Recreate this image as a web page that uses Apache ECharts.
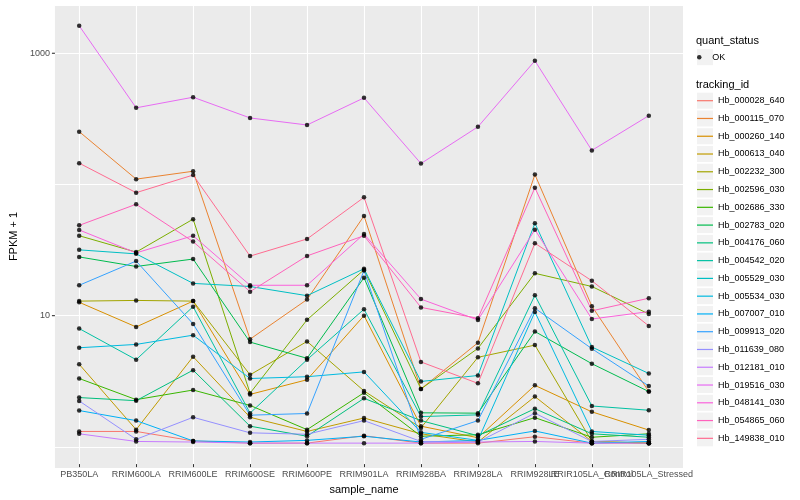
<!DOCTYPE html>
<html>
<head>
<meta charset="utf-8">
<script src="https://cdn.jsdelivr.net/npm/echarts@6/dist/echarts.min.js"></script>
<style>html,body{margin:0;padding:0;background:#fff}#c{width:800px;height:500px}</style>
</head>
<body>
<div id="c"></div>
<script>
const categories = ['PB350LA','RRIM600LA','RRIM600LE','RRIM600SE','RRIM600PE','RRIM901LA','RRIM928BA','RRIM928LA','RRIM928LE','RRIR105LA_Control','RRIR105LA_Stressed'];
const yTickLabels = [10, 1000];

const Hb_000028_640 = [1.23, 1.23, 1.04, 1.0, 1.0, 1.14, 1.0, 1.0, 1.12, 1.0, 1.0];
const Hb_000115_070 = [248, 107, 123, 6.3, 12.7, 55.8, 2.61, 5.91, 116, 11.3, 2.49];
const Hb_000260_140 = [12.1, 7.82, 12.35, 2.37, 3.07, 9.55, 1.35, 1.10, 2.78, 1.74, 1.26];
const Hb_000613_040 = [4.04, 1.27, 4.62, 1.58, 1.23, 1.56, 1.18, 1.02, 2.28, 1.03, 1.0];
const Hb_002232_300 = [12.35, 12.5, 12.35, 3.35, 6.05, 2.52, 1.31, 4.57, 5.67, 1.03, 1.0];
const Hb_002596_030 = [39.3, 29.4, 52.7, 2.42, 8.87, 21.5, 2.61, 5.35, 20.2, 16.0, 9.83];
const Hb_002686_330 = [3.14, 2.16, 2.56, 1.95, 1.27, 2.44, 1.13, 1.16, 1.57, 1.11, 1.18];
const Hb_002783_020 = [27.0, 22.8, 26.0, 5.98, 4.49, 18.7, 1.71, 1.70, 7.21, 4.08, 2.49];
const Hb_004176_060 = [2.24, 2.12, 3.64, 1.35, 1.13, 2.21, 1.49, 1.14, 1.84, 1.18, 1.11];
const Hb_004542_020 = [7.60, 4.38, 11.2, 1.70, 4.38, 10.7, 1.60, 1.65, 13.7, 1.93, 1.79];
const Hb_005529_030 = [30.6, 28.5, 16.9, 16.0, 13.6, 21.9, 2.98, 3.31, 49.1, 5.48, 3.43];
const Hb_005534_030 = [5.41, 5.74, 6.76, 3.14, 3.24, 3.53, 1.21, 1.05, 10.2, 1.23, 1.15];
const Hb_007007_010 = [1.78, 1.49, 1.04, 1.02, 1.05, 1.13, 1.02, 1.05, 1.24, 1.0, 1.03];
const Hb_009913_020 = [16.35, 25.1, 8.25, 1.64, 1.69, 21.2, 1.07, 1.49, 10.9, 5.32, 2.75];
const Hb_011639_080 = [2.11, 1.07, 1.58, 1.20, 1.17, 1.49, 1.03, 1.02, 1.70, 1.03, 1.07];
const Hb_012181_010 = [1.18, 1.03, 1.02, 1.0, 1.0, 1.0, 1.0, 1.02, 1.03, 1.0, 1.0];
const Hb_019516_030 = [1615, 378, 456, 316, 279, 451, 141, 270, 869, 178, 329];
const Hb_048141_030 = [43.5, 29.0, 39.3, 16.35, 16.35, 40.5, 12.8, 8.84, 43.7, 9.0, 10.25];
const Hb_054865_060 = [47.2, 68.6, 35.4, 14.6, 27.5, 39.3, 11.05, 9.11, 91.9, 10.4, 13.0];
const Hb_149838_010 = [142, 84.2, 115, 27.4, 37.1, 77.5, 4.21, 2.88, 34.4, 17.7, 7.96];

const trackingIds = ['Hb_000028_640','Hb_000115_070','Hb_000260_140','Hb_000613_040','Hb_002232_300','Hb_002596_030','Hb_002686_330','Hb_002783_020','Hb_004176_060','Hb_004542_020','Hb_005529_030','Hb_005534_030','Hb_007007_010','Hb_009913_020','Hb_011639_080','Hb_012181_010','Hb_019516_030','Hb_048141_030','Hb_054865_060','Hb_149838_010'];
const seriesValues = [Hb_000028_640,Hb_000115_070,Hb_000260_140,Hb_000613_040,Hb_002232_300,Hb_002596_030,Hb_002686_330,Hb_002783_020,Hb_004176_060,Hb_004542_020,Hb_005529_030,Hb_005534_030,Hb_007007_010,Hb_009913_020,Hb_011639_080,Hb_012181_010,Hb_019516_030,Hb_048141_030,Hb_054865_060,Hb_149838_010];
const palette = ['#F8766D','#EA8331','#D89000','#C09B00','#A3A500','#7CAE00','#39B600','#00BB4E','#00BF7D','#00C1A3','#00BFC4','#00BAE0','#00B0F6','#35A2FF','#9590FF','#C77CFF','#E76BF3','#FA62DB','#FF62BC','#FF6C91'];
const statusLabels = ['OK'];

const FONT = 'Liberation Sans, Arial, Helvetica, sans-serif';
const Y_MIN = 0.69, Y_MAX = 2333;

const chart = echarts.init(document.getElementById('c'), null, {renderer: 'canvas'});

const lineSeries = trackingIds.map((id, k) => ({
  name: id,
  type: 'line',
  xAxisIndex: 1,
  yAxisIndex: 1,
  data: seriesValues[k],
  showSymbol: false,
  symbol: 'none',
  lineStyle: {width: 1, color: palette[k]},
  itemStyle: {color: palette[k]},
  emphasis: {disabled: true},
  z: 2
}));

const pointData = [];
seriesValues.forEach(vals => vals.forEach((v, i) => pointData.push([i, v])));

// legend key backgrounds
const KEY_X = 697, KEY_W = 16, KEY_H = 16;
const LEG_C0 = 100.7, LEG_STEP = 17.77, TXT_H = 9;
const keyRects = [{
  type: 'rect', left: KEY_X, top: 57.2 - KEY_H / 2,
  shape: {width: KEY_W, height: KEY_H}, style: {fill: '#F2F2F2'}, z: -1
}];
trackingIds.forEach((id, i) => {
  keyRects.push({
    type: 'rect', left: KEY_X, top: LEG_C0 + i * LEG_STEP - KEY_H / 2,
    shape: {width: KEY_W, height: KEY_H}, style: {fill: '#F2F2F2'}, z: -1
  });
});

function yLabel(v) {
  const e = Math.log10(v);
  const r = Math.round(e);
  if (Math.abs(e - r) > 1e-6) return '';
  const val = Math.pow(10, r);
  if (yTickLabels.indexOf(val) >= 0) return '{l|' + val + '}{t|}';
  return '';
}

chart.setOption({
  animation: false,
  backgroundColor: '#ffffff',
  textStyle: {fontFamily: FONT},
  title: [
    {text: 'quant_status', left: 696, top: 35.5, padding: 0,
     textStyle: {fontSize: 11, fontWeight: 'normal', color: '#000', fontFamily: FONT}},
    {text: 'tracking_id', left: 696, top: 79, padding: 0,
     textStyle: {fontSize: 11, fontWeight: 'normal', color: '#000', fontFamily: FONT}}
  ],
  graphic: keyRects,
  legend: [
    {
      data: statusLabels, left: KEY_X, top: 57.2 - TXT_H / 2, orient: 'vertical', padding: 0,
      icon: 'circle', itemWidth: KEY_W, itemHeight: 4.5, selectedMode: false,
      textStyle: {fontSize: 9, color: '#000', fontFamily: FONT}
    },
    {
      data: trackingIds, left: KEY_X, top: LEG_C0 - TXT_H / 2, orient: 'vertical', padding: 0,
      icon: 'path://M0,0L16,0L16,1.2L0,1.2Z', itemWidth: KEY_W, itemHeight: 17,
      itemGap: LEG_STEP - TXT_H, selectedMode: false,
      textStyle: {fontSize: 9, color: '#000', fontFamily: FONT}
    }
  ],
  grid: [
    {left: 45, right: 117, top: 5, bottom: 32, show: true, backgroundColor: '#EBEBEB', borderWidth: 0},
    {left: 50.7, right: 122.7, top: 5, bottom: 32}
  ],
  xAxis: [
    {gridIndex: 0, type: 'value', min: 0, max: 1, show: false},
    {
      gridIndex: 1, type: 'category', data: categories, boundaryGap: true,
      axisLine: {show: false},
      axisTick: {show: true, alignWithLabel: true, interval: 0, length: 3, lineStyle: {color: '#333333', width: 1}},
      axisLabel: {interval: 0, margin: 6, fontSize: 9, color: '#4D4D4D', fontFamily: FONT},
      splitLine: {show: true, alignWithLabel: true, interval: 0, lineStyle: {color: '#ffffff', width: 1.1}},
      name: 'sample_name', nameLocation: 'middle', nameGap: 15,
      nameTextStyle: {fontSize: 11, color: '#000', fontFamily: FONT}
    }
  ],
  yAxis: [
    {
      gridIndex: 0, type: 'log', logBase: 10, min: Y_MIN, max: Y_MAX,
      axisLine: {show: false}, axisTick: {show: false},
      splitLine: {show: true, lineStyle: {color: '#ffffff', width: 1.1}},
      axisLabel: {
        margin: 0, formatter: yLabel,
        rich: {
          l: {fontSize: 9, color: '#4D4D4D', fontFamily: FONT, padding: [0, 2, 0, 0]},
          t: {width: 3, height: 1.1, backgroundColor: '#333333'}
        }
      },
      name: 'FPKM + 1', nameLocation: 'middle', nameGap: 27,
      nameTextStyle: {fontSize: 11, color: '#000', fontFamily: FONT}
    },
    {gridIndex: 1, type: 'log', logBase: 10, min: Y_MIN, max: Y_MAX, show: false}
  ],
  series: lineSeries.concat([{
    name: 'OK', type: 'scatter', xAxisIndex: 1, yAxisIndex: 1,
    data: pointData, symbol: 'circle', symbolSize: 4.5,
    itemStyle: {color: '#000000'}, emphasis: {disabled: true}, z: 3
  }])
});
</script>
</body>
</html>
